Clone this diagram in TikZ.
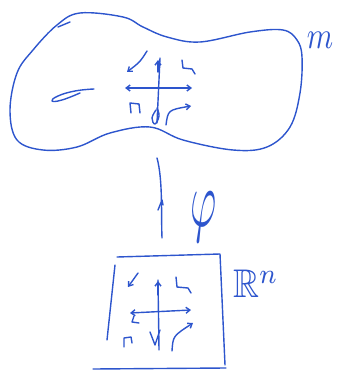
\documentclass[tikz,border=0pt]{standalone}
\usepackage{amssymb}
\usepackage{graphicx}
\usetikzlibrary{arrows.meta}
\definecolor{pen}{RGB}{45,85,205}
\begin{document}
\begin{tikzpicture}[x=1pt,y=-1pt,
  ink/.style={draw=pen,line width=1.4pt,line cap=round,line join=round},
  tip/.style={ink,-{Straight Barb[length=4pt,width=6pt]}},
  tips/.style={ink,{Straight Barb[length=4pt,width=6pt]}-{Straight Barb[length=4pt,width=6pt]}},
  lbl/.style={text=pen,inner sep=0pt}]
\useasboundingbox (0,0) rectangle (337,371);
% manifold outline
\draw[ink] plot[smooth cycle,tension=0.6] coordinates{
 (57,25) (80,13) (123,17) (143,27) (167,37) (200,42) (250,32) (283,30)
 (297,40) (302,57) (300,93) (290,127) (267,147) (233,150) (183,140)
 (150,127) (110,133) (77,147) (43,150) (17,140) (10,110) (17,73) (33,50)};
\draw[ink] (58,27) -- (70,22);
% hole
\draw[ink] plot[smooth,tension=0.8] coordinates{(94,89) (75,91) (58,96) (52,101) (62,100) (80,93)};
% chart on manifold
\draw[tips] (125,88) -- (192,88);
\draw[ink] (160,58) -- (157,123);
\draw[tip] (158,72) -- (158,60);
\draw[ink] plot[smooth,tension=0.7] coordinates{(156,110) (152,118) (155,124) (159,116) (157,108)};
\draw[tip] (147,51) .. controls (140,62) .. (127,72);
\draw[ink] (182,60) -- (183,68) -- (192,69) -- (195,74);
\draw[ink] (131,113) -- (130,103) -- (139,104) -- (140,113);
\draw[tip] (166,125) .. controls (168,110) .. (191,106);
\node[lbl] (m) at (320,40) {\scalebox{3}[3.8]{$m$}};
% map
\draw[ink] (157,158) .. controls (163,180) and (161,215) .. (162,238);
\draw[ink] (158,210) -- (162,200) -- (163,205);
\node[lbl] (phi) at (204,217) {\scalebox{4}[8]{$\varphi$}};
% square
\draw[ink] (117,257) -- (220,254) -- (225,365);
\draw[ink] (115,265) -- (107,340);
\draw[ink] (226,368) -- (93,369);
\node[lbl] (Rn) at (256,284) {\scalebox{3.6}[4]{$\mathbb{R}^n$}};
% chart in R^n
\draw[tips] (130,313) -- (191,310);
\draw[ink] (158,280) -- (159,350);
\draw[tip] (158,295) -- (158,281);
\draw[tip] (138,273) -- (128,287);
\draw[ink] (176,277) -- (177,287) -- (188,288) -- (191,293);
\draw[ink] (134,316) -- (132,322) -- (139,323);
\draw[ink] (124,347) -- (124,338) -- (131,337) -- (132,343);
\draw[ink] (150,332) -- (155,345) -- (160,330);
\draw[tip] (172,351) .. controls (173,336) .. (193,323);
\end{tikzpicture}
\end{document}
